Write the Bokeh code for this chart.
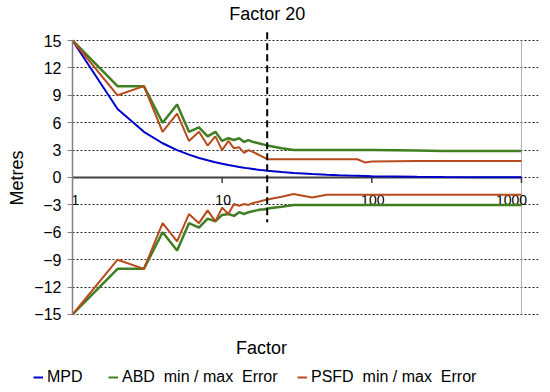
from bokeh.plotting import figure
from bokeh.layouts import column
from bokeh.models import (FixedTicker, Legend, LegendItem, ColumnDataSource, Range1d,
                          Title, Label)
from bokeh.core.properties import value
from bokeh.embed import file_html
from bokeh.resources import INLINE

FONT = "Liberation Sans"

# ---- data ----
factor = [1, 2, 3, 4, 5, 6, 7, 8, 9, 10, 11, 12, 13, 14, 15, 16, 17, 18, 19, 20,
          25, 30, 40, 50, 60, 70, 80, 90, 100, 200, 300, 500, 700, 1000]
mpd = [15, 7.5, 5, 3.75, 3, 2.5, 2.14, 1.88, 1.67, 1.5, 1.36, 1.25, 1.15, 1.07, 1.0,
       0.94, 0.88, 0.83, 0.79, 0.75, 0.6, 0.5, 0.38, 0.3, 0.25, 0.21, 0.19, 0.17,
       0.15, 0.08, 0.05, 0.03, 0.02, 0.015]
abd_max = [15, 10, 10, 6, 8, 5, 5.5, 4.5, 5, 4, 4.3, 4.1, 4.3, 3.9, 4.1, 3.9, 3.8, 3.7,
           3.6, 3.5, 3.2, 3.0, 3.0, 3.0, 3.0, 3.0, 3.0, 3.0, 3.0, 2.95, 2.9, 2.9, 2.9, 2.9]
abd_min = [-15, -10, -10, -6, -8, -5, -5.5, -4.5, -4.8, -4.1, -4.0, -4.2, -3.8, -4.0,
           -3.8, -3.7, -3.6, -3.5, -3.5, -3.4, -3.2, -3.0, -3.0, -3.0, -3.0, -3.0,
           -3.0, -3.0, -3.0, -3.0, -3.0, -3.0, -3.0, -3.0]
psfd_max = [15, 9, 10, 5, 7, 4, 5, 3.5, 4.5, 3, 4, 3.2, 3.3, 2.7, 3, 2.8, 2.6, 2.4, 2.2,
            2.0, 2.0, 2.0, 2.0, 2.0, 2.0, 2.0, 2.0, 1.65, 1.75, 1.8, 1.8, 1.8, 1.8, 1.8]
psfd_min = [-15, -9, -10, -5, -7, -4, -5, -3.6, -4.8, -3.3, -4, -2.9, -3.1, -2.9, -3,
            -2.8, -2.7, -2.6, -2.5, -2.4, -2.1, -1.8, -2.2, -1.9, -1.9, -1.9, -1.9,
            -1.9, -1.9, -1.9, -1.9, -1.9, -1.9, -1.9]

y_ticks = [-15, -12, -9, -6, -3, 0, 3, 6, 9, 12, 15]
x_min, x_max = 1, 1000
y_min, y_max = -15, 15
x_tick_values = [1, 10, 100, 1000]
x_tick_labels = ["1", "10", "100", "1000"]
x_tick_marks = [10, 100, 1000]
marker_factor = 20
marker_label = "Factor 20"
x_title = "Factor"
y_title = "Metres"
series_labels = ["MPD", "ABD  min / max  Error", "PSFD  min / max  Error"]

# ---- styling / layout ----
BLUE = "#0000CC"
GREEN = "#3F7F22"
RED = "#B84A1C"
AXIS = "#404040"
x_label_y = -2.5
x_label_offsets = [3, 1, 1, -10]
legend_x = [33, 108, 297]

src = ColumnDataSource(dict(factor=factor, mpd=mpd, abd_max=abd_max, abd_min=abd_min,
                            psfd_max=psfd_max, psfd_min=psfd_min))

p = figure(width=550, height=335, x_axis_type="log",
           x_range=Range1d(1, 1300), y_range=Range1d(-17.30, 19.38),
           x_axis_location=None, output_backend="svg", toolbar_location=None,
           min_border_left=71, min_border_right=12, min_border_top=0,
           min_border_bottom=0)
p.outline_line_color = None
p.background_fill_color = "white"
p.border_fill_color = "white"
p.xgrid.visible = False

# y axis
p.yaxis.ticker = FixedTicker(ticks=y_ticks)
p.yaxis.bounds = (y_min, y_max)
p.yaxis.axis_line_color = "#808080"
p.yaxis.axis_line_width = 1.5
p.yaxis.major_tick_line_color = "#808080"
p.yaxis.major_tick_out = 5
p.yaxis.major_tick_in = 0
p.yaxis.minor_tick_line_color = None
p.yaxis.major_label_standoff = 6
p.yaxis.major_label_text_font = FONT
p.yaxis.major_label_text_font_size = "16px"
p.yaxis.major_label_text_color = "black"

p.add_layout(Title(text=y_title, align="left", offset=130, standoff=9,
                   text_font=FONT, text_font_size="18px", text_font_style="normal",
                   text_color="black"), "left")

p.ygrid.grid_line_color = "#222222"
p.ygrid.grid_line_dash = "2 2"
p.ygrid.grid_line_width = 1
p.ygrid.bounds = (x_min, x_max)

# right border line of the plot area
p.segment(x0=[x_max], x1=[x_max], y0=[y_min], y1=[y_max],
          line_color="#b0b0b0", line_width=1)

# zero line & x ticks
p.segment(x0=[x_min], x1=[x_max], y0=[0], y1=[0], line_color=AXIS, line_width=2)
p.segment(x0=x_tick_marks, x1=x_tick_marks, y0=[0] * len(x_tick_marks),
          y1=[-0.6] * len(x_tick_marks), line_color=AXIS, line_width=1.5)
p.text(x=x_tick_values, y=[x_label_y] * len(x_tick_values), text=x_tick_labels,
       x_offset=x_label_offsets, text_align="center", text_baseline="middle",
       text_font=value(FONT), text_font_size="14px", text_color="black")

# series
p.line("factor", "mpd", source=src, line_color=BLUE, line_width=2)
p.line("factor", "abd_max", source=src, line_color=GREEN, line_width=2.5)
p.line("factor", "abd_min", source=src, line_color=GREEN, line_width=2.5)
p.line("factor", "psfd_max", source=src, line_color=RED, line_width=2)
p.line("factor", "psfd_min", source=src, line_color=RED, line_width=2)

# factor 20 marker
p.segment(x0=[marker_factor], x1=[marker_factor], y0=[15.9], y1=[-4.9],
          line_color="black", line_width=2, line_dash="7 4")
p.text(x=[marker_factor], y=[17.9], text=[marker_label], text_align="center",
       text_baseline="middle", text_font=value(FONT), text_font_size="18px",
       text_color="black")

# ---- strip below the plot: x title + legend ----
q = figure(width=550, height=57, x_range=Range1d(-3, -2), y_range=Range1d(-3, -2),
           x_axis_location=None, y_axis_location=None, output_backend="svg",
           toolbar_location=None, min_border=0)
q.frame_align = False
q.outline_line_color = None
q.xgrid.visible = False
q.ygrid.visible = False
q.border_fill_color = "white"
q.background_fill_color = "white"

q.add_layout(Label(x=261, y=45, x_units="screen", y_units="screen", text=x_title,
                   text_align="center", text_baseline="middle", text_font=FONT,
                   text_font_size="18px", text_color="black"))

# legend proxies (same data, outside this strip's view)
lg_mpd = q.line("factor", "mpd", source=src, line_color=BLUE, line_width=2)
lg_abd = q.line("factor", "abd_max", source=src, line_color=GREEN, line_width=2)
lg_ps = q.line("factor", "psfd_max", source=src, line_color=RED, line_width=2)

for lx, lab, r in zip(legend_x, series_labels, [lg_mpd, lg_abd, lg_ps]):
    q.add_layout(Legend(items=[LegendItem(label=lab, renderers=[r])],
                        location=(lx, 6), glyph_width=10, glyph_height=16,
                        label_height=16, label_standoff=4, padding=0, margin=0,
                        border_line_color=None, background_fill_alpha=0,
                        label_text_font=FONT, label_text_font_size="16px",
                        label_text_color="black"))

layout = column(p, q, spacing=0)
open("out.html", "w").write(file_html(layout, INLINE))
